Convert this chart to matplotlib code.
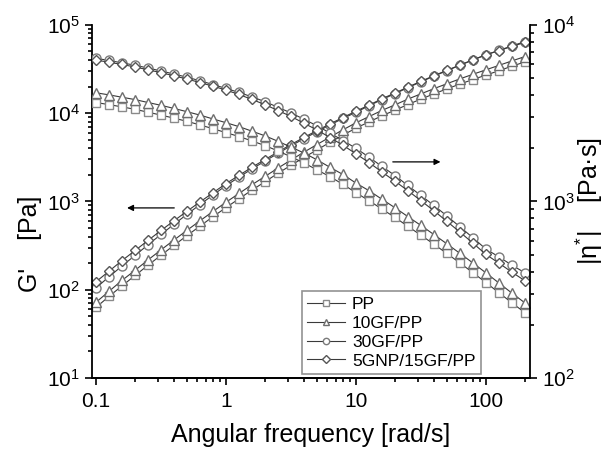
import numpy as np
import matplotlib
matplotlib.use("Agg")
import matplotlib.pyplot as plt
from matplotlib.ticker import FixedLocator, FixedFormatter, LogLocator, NullFormatter

plt.rcParams['font.family'] = ['Liberation Sans', 'DejaVu Sans']
plt.rcParams['mathtext.fontset'] = 'custom'
plt.rcParams['mathtext.rm'] = 'Liberation Sans'
plt.rcParams['mathtext.it'] = 'Liberation Sans:italic'

# angular frequency [rad/s], 10 points per decade
freq = [0.1, 0.126, 0.158, 0.2, 0.251, 0.316, 0.398, 0.501, 0.631, 0.794,
        1.0, 1.26, 1.58, 2.0, 2.51, 3.16, 3.98, 5.01, 6.31, 7.94,
        10.0, 12.6, 15.8, 20.0, 25.1, 31.6, 39.8, 50.1, 63.1, 79.4,
        100.0, 126.0, 158.0, 200.0]

labels = ["PP", "10GF/PP", "30GF/PP", "5GNP/15GF/PP"]

# storage modulus G' [Pa]
g_pp = [63, 84, 110, 145, 189, 245, 318, 409, 525, 670, 851, 1070, 1340, 1670, 2080, 2560, 3140,
        3830, 4660, 5620, 6760, 7940, 9290, 10800, 12500, 14400, 16500, 18800, 21300, 24000,
        26900, 30200, 33900, 38000]
g_10gf = [72, 96, 127, 166, 217, 282, 365, 470, 603, 769, 977, 1230, 1540, 1920, 2380, 2940, 3610,
          4400, 5350, 6460, 7760, 9120, 10700, 12400, 14400, 16500, 18900, 21500, 24400, 27500,
          30900, 34700, 38900, 43700]
g_30gf = [105, 140, 185, 245, 322, 422, 550, 713, 920, 1180, 1510, 1880, 2330, 2860, 3500, 4250,
          5130, 6150, 7330, 8690, 10200, 12100, 14200, 16600, 19400, 22600, 26200, 30200, 34800,
          39900, 45700, 51300, 57500, 64600]
g_gnp = [123, 162, 213, 278, 361, 468, 603, 773, 986, 1250, 1590, 1970, 2430, 2980, 3630, 4400,
         5300, 6340, 7530, 8910, 10500, 12300, 14500, 16900, 19700, 22900, 26500, 30500, 35000,
         40100, 45700, 51000, 56900, 63100]

# complex viscosity |eta*| [Pa.s]
eta_pp = [3630, 3530, 3430, 3320, 3200, 3080, 2960, 2840, 2710, 2580, 2450, 2330, 2200, 2070,
          1930, 1790, 1650, 1510, 1380, 1250, 1120, 1010, 906, 811, 722, 644, 572, 507, 448, 395,
          347, 304, 267, 234]
eta_10gf = [4120, 4010, 3890, 3770, 3630, 3500, 3360, 3220, 3080, 2930, 2790, 2650, 2500, 2350,
            2190, 2030, 1880, 1720, 1560, 1420, 1270, 1150, 1030, 920, 820, 731, 649, 575, 508,
            448, 394, 345, 303, 266]
eta_30gf = [6460, 6280, 6090, 5900, 5690, 5480, 5260, 5050, 4820, 4590, 4360, 4140, 3910, 3670,
            3410, 3170, 2920, 2680, 2440, 2210, 2000, 1780, 1580, 1400, 1230, 1080, 949, 827, 718,
            623, 537, 485, 436, 394]
eta_gnp = [6310, 6140, 5960, 5770, 5560, 5360, 5140, 4930, 4710, 4490, 4270, 4030, 3780, 3530,
           3270, 3030, 2770, 2540, 2300, 2080, 1860, 1660, 1470, 1300, 1150, 1010, 885, 771, 670,
           581, 501, 447, 398, 355]

g_data = [g_pp, g_10gf, g_30gf, g_gnp]
eta_data = [eta_pp, eta_10gf, eta_30gf, eta_gnp]
markers = ['s', '^', 'o', 'D']
msizes = [6, 7, 6.5, 5.5]
mcolors = ['#8a8a8a', '#6e6e6e', '#7a7a7a', '#555555']

fig = plt.figure(figsize=(6.09, 4.51), dpi=100)
ax = fig.add_axes([0.151, 0.162, 0.719, 0.783])
ax2 = ax.twinx()

handles = []
for g, eta, m, ms, mc, lab in zip(g_data, eta_data, markers, msizes, mcolors, labels):
    h, = ax.plot(freq, g, marker=m, ms=ms, mfc='white', mec=mc, mew=1.0,
                 color='#3a3a3a', lw=0.8, label=lab)
    ax2.plot(freq, eta, marker=m, ms=ms, mfc='white', mec=mc, mew=1.0,
             color='#3a3a3a', lw=0.8)
    handles.append(h)

for a in (ax, ax2):
    a.set_xscale('log')
    a.set_yscale('log')
    a.spines['top'].set_visible(False)
    for s in a.spines.values():
        s.set_linewidth(1.3)

ax.set_xlim(0.093, 218)
ax.set_ylim(1e1, 1e5)
ax2.set_ylim(1e2, 1e4)
ax2.spines['left'].set_visible(False)
ax.spines['right'].set_visible(False)

ax.xaxis.set_major_locator(FixedLocator([0.1, 1, 10, 100]))
ax.xaxis.set_major_formatter(FixedFormatter(["0.1", "1", "10", "100"]))
ax.xaxis.set_minor_locator(LogLocator(base=10, subs=np.arange(2, 10)))
ax.xaxis.set_minor_formatter(NullFormatter())

ax.yaxis.set_major_locator(FixedLocator([1e1, 1e2, 1e3, 1e4, 1e5]))
ax.yaxis.set_major_formatter(FixedFormatter([r"$10^{1}$", r"$10^{2}$", r"$10^{3}$",
                                             r"$10^{4}$", r"$10^{5}$"]))
ax2.yaxis.set_major_locator(FixedLocator([1e2, 1e3, 1e4]))
ax2.yaxis.set_major_formatter(FixedFormatter([r"$10^{2}$", r"$10^{3}$", r"$10^{4}$"]))

ax.tick_params(which='both', direction='out', top=False, right=False, labelsize=15, width=1.2)
ax.tick_params(which='major', length=5)
ax.tick_params(which='minor', length=3)
ax.tick_params(axis='x', pad=5)
ax2.tick_params(which='both', direction='out', labelsize=15, width=1.2)
ax2.tick_params(which='major', length=5)
ax2.tick_params(which='minor', length=3)

ax.set_xlabel("Angular frequency [rad/s]", fontsize=18, labelpad=9)
ax.set_ylabel("G'    [Pa]", fontsize=18)
ax.yaxis.set_label_coords(-0.115, 0.38)
ax2.set_ylabel("|η$^{*}$|    [Pa·s]", fontsize=18, rotation=90)
ax2.yaxis.set_label_coords(1.10, 0.5)

# arrows pointing to the respective axes
ax.annotate("", xy=(0.165, 843), xytext=(0.42, 843),
            arrowprops=dict(arrowstyle='-|>', color='black', lw=0.9, mutation_scale=9))
ax.annotate("", xy=(47, 2800), xytext=(18.3, 2800),
            arrowprops=dict(arrowstyle='-|>', color='black', lw=0.9, mutation_scale=9))

leg = ax.legend(handles=handles, loc='upper left', bbox_to_anchor=(0.459, 0.27),
                fontsize=12.5, frameon=True, fancybox=False, handlelength=2.2,
                labelspacing=0.22, borderpad=0.3, handletextpad=0.4, markerscale=0.7)
leg.get_frame().set_edgecolor('#777777')
leg.get_frame().set_linewidth(1.2)

fig.savefig("out.png", dpi=100)
